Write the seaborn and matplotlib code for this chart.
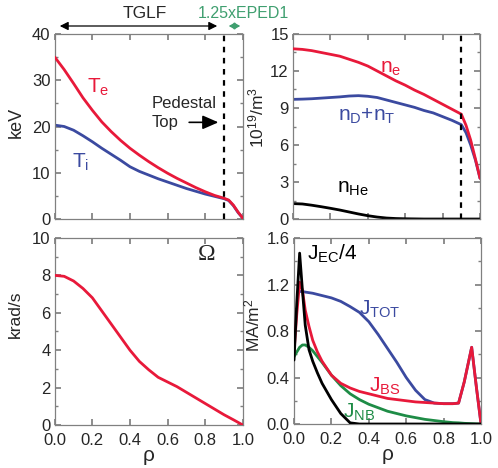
import matplotlib
matplotlib.use("Agg")
import matplotlib.pyplot as plt
import seaborn as sns
import pandas as pd
from matplotlib.ticker import MultipleLocator

# ---------------- data ----------------
rho_T = [0.0, 0.05, 0.1, 0.15, 0.2, 0.25, 0.3, 0.35, 0.4, 0.45, 0.5, 0.55, 0.6,
         0.65, 0.7, 0.75, 0.8, 0.85, 0.9, 0.925, 0.95, 0.975, 1.0]
Te = [35.0, 32.3, 29.3, 26.2, 23.5, 21.0, 18.9, 17.0, 15.3, 13.8, 12.4, 11.1, 9.9,
      8.8, 7.8, 6.8, 5.9, 5.1, 4.5, 4.1, 3.0, 1.5, 0.2]
Ti = [20.3, 20.0, 19.2, 18.0, 16.7, 15.3, 14.0, 12.7, 11.3, 10.3, 9.5, 8.7, 8.0,
      7.3, 6.6, 6.0, 5.4, 4.9, 4.4, 4.0, 2.9, 1.4, 0.2]

rho_n = rho_T
ne = [13.8, 13.75, 13.65, 13.5, 13.35, 13.2, 12.95, 12.7, 12.4, 12.0, 11.6, 11.2,
      10.85, 10.45, 10.1, 9.7, 9.3, 8.9, 8.5, 7.6, 6.4, 4.9, 3.3]
nDT = [9.7, 9.72, 9.75, 9.8, 9.85, 9.9, 9.97, 10.0, 9.95, 9.85, 9.65, 9.45, 9.25,
       9.05, 8.8, 8.6, 8.3, 8.0, 7.65, 7.0, 6.0, 4.8, 3.3]
nHe = [1.25, 1.22, 1.12, 1.0, 0.87, 0.73, 0.57, 0.41, 0.27, 0.16, 0.08, 0.04, 0.02,
       0.01, 0.0, 0.0, 0.0, 0.0, 0.0, 0.0, 0.0, 0.0, 0.0]

rho_W = [0.0, 0.05, 0.1, 0.15, 0.2, 0.25, 0.3, 0.35, 0.4, 0.45, 0.5, 0.55, 0.6,
         0.65, 0.7, 0.75, 0.8, 0.85, 0.9, 0.95, 1.0]
Omega = [8.0, 7.95, 7.7, 7.3, 6.8, 6.1, 5.4, 4.7, 4.0, 3.4, 2.95, 2.55, 2.3,
         2.05, 1.75, 1.45, 1.15, 0.85, 0.55, 0.28, 0.0]

rho_J = [0.0, 0.015, 0.03, 0.045, 0.06, 0.08, 0.1, 0.125, 0.15, 0.2, 0.25, 0.3, 0.35,
         0.4, 0.45, 0.5, 0.55, 0.6, 0.65, 0.7, 0.75, 0.8, 0.85, 0.88, 0.91, 0.95, 0.975, 1.0]
J_EC4 = [0.55, 1.05, 1.47, 1.15, 0.85, 0.64, 0.54, 0.44, 0.35, 0.21, 0.09, 0.01, 0.0,
         0.0, 0.0, 0.0, 0.0, 0.0, 0.0, 0.0, 0.0, 0.0, 0.0, 0.0, 0.0, 0.0, 0.0, 0.0]
J_BS = [0.62, 0.95, 1.22, 1.15, 0.98, 0.84, 0.72, 0.62, 0.54, 0.42, 0.35, 0.31, 0.28,
        0.26, 0.24, 0.22, 0.21, 0.2, 0.19, 0.185, 0.18, 0.175, 0.175, 0.18, 0.36, 0.66, 0.32, 0.0]
J_TOT = [None, None, 1.14, 1.14, 1.135, 1.13, 1.125, 1.115, 1.105, 1.085, 1.055, 1.01, 0.96,
         0.88, 0.77, 0.65, 0.53, 0.4, 0.29, 0.21, 0.18, 0.175, 0.175, 0.18, 0.36, 0.66, 0.32, 0.0]
J_NB = [0.58, 0.62, 0.66, 0.68, 0.68, 0.66, 0.63, 0.58, 0.53, 0.42, 0.33, 0.26, 0.21,
        0.17, 0.14, 0.11, 0.09, 0.07, 0.055, 0.04, 0.03, 0.02, 0.012, 0.01, 0.006, 0.003, 0.001, 0.0]

x_ticks = [0.0, 0.2, 0.4, 0.6, 0.8, 1.0]
x_ticklabels = ["0.0", "0.2", "0.4", "0.6", "0.8", "1.0"]
rho_ped = 0.9

# ---------------- style ----------------
sns.set_theme(style="ticks")
plt.rcParams["font.family"] = ["Liberation Sans", "DejaVu Sans"]
plt.rcParams["mathtext.default"] = "regular"

RED = "#e8193a"
BLUE = "#3b4aa0"
GREEN = "#1e8c46"
TEAL = "#3f9f6f"
SPINE = "#808080"
LW = 2.0

fig = plt.figure(figsize=(4.98, 4.68), dpi=100)
ax_T = fig.add_axes([0.110, 0.532, 0.3775, 0.3954])
ax_n = fig.add_axes([0.5884, 0.532, 0.3755, 0.3954])
ax_W = fig.add_axes([0.110, 0.0919, 0.3775, 0.3996])
ax_J = fig.add_axes([0.5904, 0.094, 0.3755, 0.3974])


def style(ax, xlabels):
    for s in ax.spines.values():
        s.set_color(SPINE)
        s.set_linewidth(0.9)
    ax.tick_params(which="both", direction="in", top=True, right=True,
                   color=SPINE, labelsize=12)
    ax.tick_params(axis="x", pad=5.5)
    ax.tick_params(axis="y", pad=3)
    ax.tick_params(which="major", length=4)
    ax.tick_params(which="minor", length=2.5)
    ax.set_xlim(0, 1)
    ax.set_xticks(x_ticks)
    if xlabels:
        ax.set_xticklabels(x_ticklabels)
        ax.set_xlabel("ρ", fontsize=15, labelpad=-1)
    else:
        ax.set_xticklabels([])
        ax.set_xlabel("")
    for lbl in ax.get_yticklabels():
        lbl.set_verticalalignment("center_baseline")


def line(ax, x, y, color, z=2):
    df = pd.DataFrame({"x": x, "y": y}).dropna()
    sns.lineplot(data=df, x="x", y="y", ax=ax, color=color, lw=LW,
                 estimator=None, sort=False, zorder=z)


# Temperatures
line(ax_T, rho_T, Ti, BLUE)
line(ax_T, rho_T, Te, RED, 3)
ax_T.axvline(rho_ped, color="black", lw=1.6, ls=(0, (2.5, 2.5)), zorder=4)
ax_T.set_ylim(0, 40)
ax_T.set_yticks([0, 10, 20, 30, 40])
ax_T.yaxis.set_minor_locator(MultipleLocator(5))
style(ax_T, False)
ax_T.set_ylabel("keV", fontsize=13)
ax_T.yaxis.set_label_coords(-0.16, 0.52)
ax_T.text(0.17, 27.3, "T$_e$", color=RED, fontsize=15)
ax_T.text(0.09, 11.0, "T$_i$", color=BLUE, fontsize=15)
ax_T.text(0.515, 19.8, "Pedestal\nTop", fontsize=12, linespacing=1.35)
ax_T.annotate("", xy=(0.885, 20.9), xytext=(0.70, 20.9),
              arrowprops=dict(arrowstyle="-|>,head_length=0.8,head_width=0.35",
                              color="black", lw=1.2))

# Densities
line(ax_n, rho_n, nHe, "black")
line(ax_n, rho_n, nDT, BLUE)
line(ax_n, rho_n, ne, RED, 3)
ax_n.axvline(rho_ped, color="black", lw=1.6, ls=(0, (2.5, 2.5)), zorder=4)
ax_n.set_ylim(0, 15)
ax_n.set_yticks([0, 3, 6, 9, 12, 15])
ax_n.yaxis.set_minor_locator(MultipleLocator(1.5))
style(ax_n, False)
ax_n.set_ylabel("10$^{19}$/m$^3$", fontsize=12.5)
ax_n.yaxis.set_label_coords(-0.145, 0.55)
ax_n.text(0.465, 11.9, "n$_e$", color=RED, fontsize=15)
ax_n.text(0.24, 8.0, "n$_D$+n$_T$", color=BLUE, fontsize=15)
ax_n.text(0.235, 2.1, "n$_{He}$", color="black", fontsize=15)

# Rotation
line(ax_W, rho_W, Omega, RED, 3)
ax_W.set_ylim(0, 10)
ax_W.set_yticks([0, 2, 4, 6, 8, 10])
ax_W.yaxis.set_minor_locator(MultipleLocator(1))
style(ax_W, True)
ax_W.set_ylabel("krad/s", fontsize=12.5)
ax_W.yaxis.set_label_coords(-0.17, 0.59)
ax_W.text(0.81, 8.8, "Ω", fontsize=17, family="Liberation Serif", ha="center")

# Currents
line(ax_J, rho_J, J_TOT, BLUE, 2)
line(ax_J, rho_J, J_NB, GREEN, 3)
line(ax_J, rho_J, J_BS, RED, 4)
line(ax_J, rho_J, J_EC4, "black", 5)
ax_J.set_ylim(0, 1.6)
ax_J.set_yticks([0.0, 0.4, 0.8, 1.2, 1.6])
ax_J.set_yticklabels(["0.0", "0.4", "0.8", "1.2", "1.6"])
ax_J.yaxis.set_minor_locator(MultipleLocator(0.2))
style(ax_J, True)
ax_J.set_ylabel("MA/m$^2$", fontsize=12.5)
ax_J.yaxis.set_label_coords(-0.17, 0.53)
ax_J.text(0.07, 1.41, "J$_{EC}$/4", color="black", fontsize=15)
ax_J.text(0.35, 0.94, "J$_{TOT}$", color=BLUE, fontsize=15)
ax_J.text(0.40, 0.275, "J$_{BS}$", color=RED, fontsize=15)
ax_J.text(0.26, 0.05, "J$_{NB}$", color=GREEN, fontsize=15)

# Header annotations
fig.text(145 / 498, 1 - 18 / 468, "TGLF", fontsize=12.5, ha="center", va="baseline")
fig.text(243 / 498, 1 - 18 / 468, "1.25xEPED1", fontsize=11.5, ha="center",
         va="baseline", color=TEAL)
fig.add_artist(matplotlib.patches.FancyArrowPatch(
    (57 / 498, 1 - 26 / 468), (220 / 498, 1 - 26 / 468), transform=fig.transFigure,
    arrowstyle="<|-|>,head_length=5,head_width=2.5", color="black", lw=0.9))
fig.add_artist(matplotlib.patches.FancyArrowPatch(
    (226 / 498, 1 - 26 / 468), (243 / 498, 1 - 26 / 468), transform=fig.transFigure,
    arrowstyle="<|-|>,head_length=3.5,head_width=2", color=TEAL, lw=0.9))

fig.savefig("out.png", dpi=100)
